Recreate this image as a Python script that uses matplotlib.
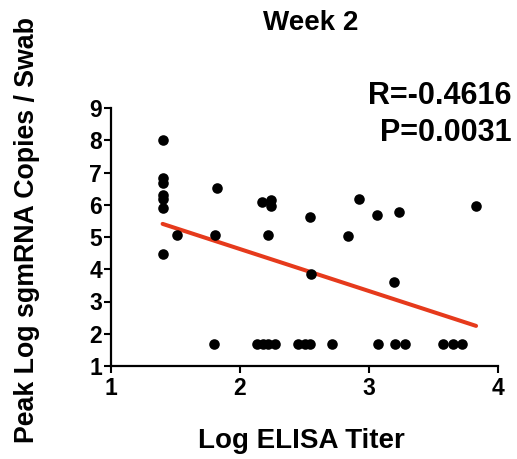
import numpy as np
import matplotlib
matplotlib.use("Agg")
import matplotlib.pyplot as plt

plt.rcParams['font.family'] = ['Liberation Sans', 'DejaVu Sans']
plt.rcParams['font.weight'] = 'bold'

# Log ELISA titer vs peak log sgmRNA copies per swab (week 2)
elisa_titer = [
    1.40, 1.40, 1.40, 1.40, 1.40, 1.40, 1.40,
    1.51,
    1.82, 1.81, 1.80,
    2.17, 2.24, 2.24, 2.22,
    2.13, 2.18, 2.22, 2.27,
    2.45, 2.50, 2.54,
    2.54, 2.55,
    2.71,
    2.84,
    2.92,
    3.06, 3.07,
    3.23, 3.19, 3.20, 3.28,
    3.57, 3.65, 3.72,
    3.83,
]
sgmrna_copies = [
    8.00, 6.82, 6.68, 6.31, 6.19, 5.91, 4.47,
    5.07,
    6.51, 5.07, 1.69,
    6.08, 6.15, 5.95, 5.07,
    1.69, 1.69, 1.69, 1.69,
    1.69, 1.69, 1.69,
    5.61, 3.85,
    1.69,
    5.03,
    6.19,
    5.67, 1.69,
    5.76, 3.59, 1.69, 1.69,
    1.69, 1.69, 1.69,
    5.96,
]

x_ticks = [1, 2, 3, 4]
y_ticks = [1, 2, 3, 4, 5, 6, 7, 8, 9]

x = np.array(elisa_titer)
y = np.array(sgmrna_copies)
slope, intercept = np.polyfit(x, y, 1)
x_fit = np.array([x.min(), x.max()])
y_fit = slope * x_fit + intercept

fig = plt.figure(figsize=(5.17, 4.59), dpi=100)
ax = fig.add_axes([111 / 517, 93 / 459, 387 / 517, 258 / 459])

ax.plot(x_fit, y_fit, color='#E63A1C', linewidth=2.9, solid_capstyle='round', zorder=2)
ax.scatter(x, y, s=58, color='black', zorder=3, clip_on=False, linewidths=0)

ax.set_xlim(1, 4)
ax.set_ylim(1, 9)
ax.set_xticks(x_ticks)
ax.set_yticks(y_ticks)
ax.tick_params(axis='both', direction='out', length=5, width=1.5, labelsize=16.5)
ax.tick_params(axis='x', pad=3)
ax.tick_params(axis='y', pad=1.5)
for lbl in ax.get_xticklabels() + ax.get_yticklabels():
    lbl.set_fontweight('bold')

for side in ['top', 'right']:
    ax.spines[side].set_visible(False)
for side in ['left', 'bottom']:
    ax.spines[side].set_linewidth(1.6)

fig.text(311 / 517, 1 - 30 / 459, 'Week 2', ha='center', va='baseline',
         fontsize=20, fontweight='bold')

ax.set_xlabel('Log ELISA Titer', fontsize=20, fontweight='bold', va='baseline')
ax.xaxis.set_label_coords((301 - 111) / 387, (366 - 448) / 258)
ax.set_ylabel('Peak Log sgmRNA Copies / Swab', fontsize=19.3, fontweight='bold', va='baseline')
ax.yaxis.set_label_coords((34 - 111) / 387, (366 - 230) / 258)

ax.text((512 - 111) / 387, (366 - 104) / 258, 'R=-0.4616', transform=ax.transAxes,
        ha='right', va='baseline', fontsize=22, fontweight='bold')
ax.text((512 - 111) / 387, (366 - 141) / 258, 'P=0.0031', transform=ax.transAxes,
        ha='right', va='baseline', fontsize=22, fontweight='bold')

fig.savefig('out.png', dpi=100)
